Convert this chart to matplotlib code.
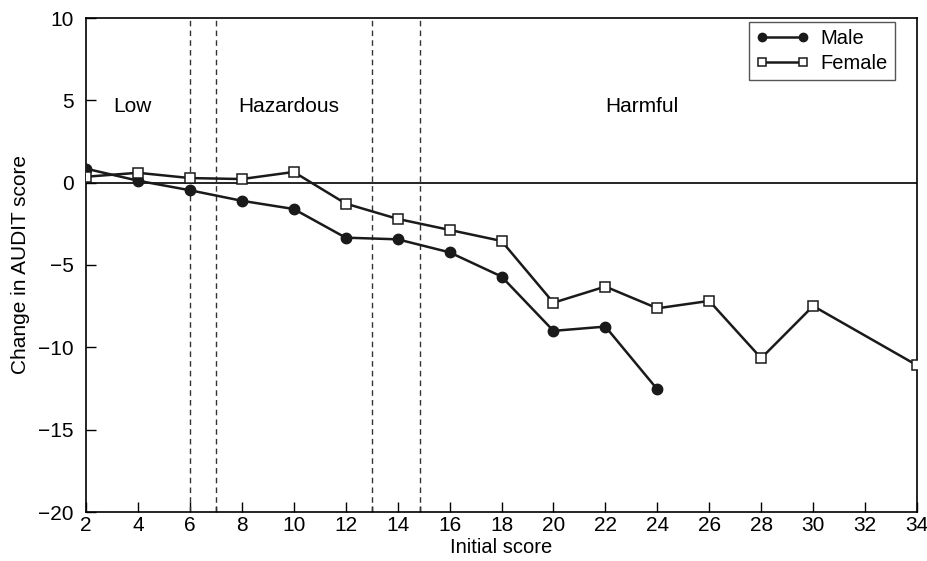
import numpy as np
import matplotlib.pyplot as plt

plt.rcParams['font.family'] = ['Liberation Sans', 'DejaVu Sans']

male_x = [2, 4, 6, 8, 10, 12, 14, 16, 18, 20, 22, 24]
male_y = [0.85, 0.12, -0.46, -1.1, -1.6, -3.34, -3.44, -4.23, -5.7, -9.0, -8.74, -12.55]

female_x = [2, 4, 6, 8, 10, 12, 14, 16, 18, 20, 22, 24, 26, 28, 30, 34]
female_y = [0.36, 0.6, 0.28, 0.22, 0.65, -1.27, -2.2, -2.87, -3.54, -7.29, -6.31,
            -7.63, -7.18, -10.66, -7.49, -11.09]

cutoffs = [6, 7, 13, 14.85]
zones = ["Low", "Hazardous", "Harmful"]
zone_x = [3.8, 9.82, 23.4]

fig = plt.figure(figsize=(9.27, 5.61), dpi=100)
ax = fig.add_axes([86/927, 1 - 512/561, (917-86)/927, (512-18)/561])

ax.axhline(0, color='black', lw=1.2)
for c in cutoffs:
	ax.axvline(c, color='#333333', lw=1, ls=(0, (4, 3)))

ax.plot(male_x, male_y, '-o', color='#1a1a1a', lw=1.8, ms=7.5,
		mfc='#1a1a1a', mec='#1a1a1a', label='Male', zorder=3)
ax.plot(female_x, female_y, '-s', color='#1a1a1a', lw=1.8, ms=7.5,
		mfc='white', mec='#1a1a1a', mew=1.1, label='Female', zorder=4)

for name, zx in zip(zones, zone_x):
	ax.text(zx, 4.6, name, ha='center', va='center', fontsize=15)

ax.set_xlim(2, 34)
ax.set_ylim(-20, 10)
ax.set_xticks(range(2, 35, 2))
ax.set_xticks([7, 13, 14.85], minor=True)
ax.set_yticks(range(-20, 11, 5))
ax.set_yticklabels([str(v).replace('-', '\u2212') for v in range(-20, 11, 5)])
ax.tick_params(direction='in', labelsize=15, length=7, width=1)
ax.tick_params(axis='x', pad=3)
ax.tick_params(axis='y', pad=9)
ax.tick_params(which='minor', direction='in', length=4, width=1)
for s in ax.spines.values():
	s.set_linewidth(1.2)

ax.set_xlabel('Initial score', fontsize=14.5, labelpad=2)
ax.set_ylabel('Change in AUDIT score', fontsize=15, labelpad=6)

leg = ax.legend(loc='upper right', numpoints=2, fontsize=14.5, fancybox=False,
				edgecolor='#555555', framealpha=1, handlelength=2.6,
				markerscale=0.8, bbox_to_anchor=(0.9735, 0.992), borderaxespad=0,
				borderpad=0.35, labelspacing=0.3, handletextpad=0.6)
leg.get_frame().set_linewidth(1)

fig.savefig('out.png', dpi=100)
